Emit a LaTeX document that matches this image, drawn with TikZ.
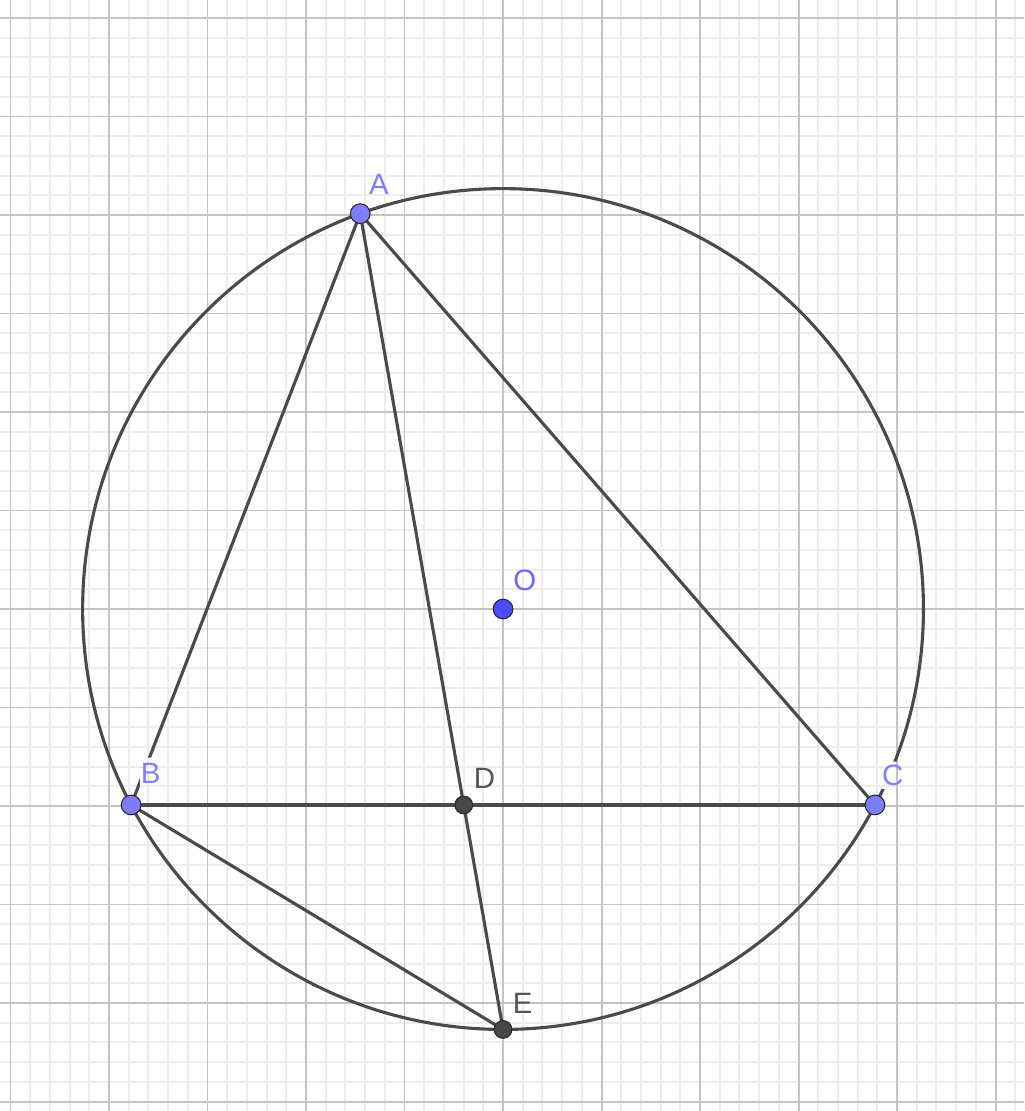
\documentclass[tikz,border=0pt]{standalone}
\usepackage{fontspec}
\setmainfont{Liberation Sans}
\usetikzlibrary{calc, positioning}
\definecolor{gridminor}{HTML}{EDEDED}
\definecolor{gridmajor}{HTML}{C4C4C4}
\definecolor{segcol}{HTML}{4A4A4A}
\definecolor{freeblue}{HTML}{7D7DFF}
\definecolor{centreblue}{HTML}{4D4DFF}
\definecolor{freelabel}{HTML}{8080FF}
\definecolor{centrelabel}{HTML}{6A6AFF}
\definecolor{depdot}{HTML}{474747}
\definecolor{deplabel}{HTML}{555555}
\tikzset{
    minorgrid/.style = {draw=gridminor, line width=0.55pt},
    majorgrid/.style = {draw=gridmajor, line width=0.55pt},
    segline/.style = {draw=segcol, line width=0.9pt},
    freedot/.style = {draw=black!85, fill=freeblue, circle, line width=0.3pt, minimum size=0.2cm, inner sep=0em},
    centredot/.style = {draw=black!85, fill=centreblue, circle, line width=0.3pt, minimum size=0.2cm, inner sep=0em},
    depdotnode/.style = {draw=black!85, fill=depdot, circle, line width=0.3pt, minimum size=0.18cm, inner sep=0em},
    ptlabel/.style = {inner sep=0em, font=\fontsize{8.5}{10}\selectfont}
}
\begin{document}
\begin{tikzpicture}
    \useasboundingbox (-5.107,-5.096) rectangle (5.289,6.183);

    % grid
    \draw [minorgrid, step=0.2] (-5.107,-5.096) grid (5.289,6.183);
    \draw [majorgrid, step=1] (-5.107,-5.096) grid (5.289,6.183);

    % construction points
    \coordinate (O) at (0,0);
    \coordinate (A) at (109.86:4.268);
    \coordinate (B) at (207.78:4.268);
    \coordinate (C) at (-27.78:4.268);
    \coordinate (E) at (270:4.268);
    \coordinate (D) at (intersection of A--E and B--C);

    % label places
    \coordinate (posA) at ($(A)+(0.19,0.30)$);
    \coordinate (posB) at ($(B)+(0.20,0.32)$);
    \coordinate (posC) at ($(C)+(0.18,0.30)$);
    \coordinate (posO) at ($(O)+(0.22,0.29)$);
    \coordinate (posD) at ($(D)+(0.21,0.27)$);
    \coordinate (posE) at ($(E)+(0.20,0.26)$);

    % lines break round the labels B and C
    \begin{scope}[even odd rule]
        \clip (-5.2,-5.2) rectangle (5.4,6.3)
            ($(posB)+(-0.11,-0.15)$) rectangle ($(posB)+(0.13,0.16)$)
            ($(posC)+(-0.14,-0.14)$) rectangle ($(posC)+(0.14,0.14)$);
        \draw [segline] (O) circle (4.268);
        \draw [segline] (A) -- (B);
        \draw [segline] (A) -- (C);
        \draw [segline] (A) -- (E);
        \draw [segline] (B) -- (C);
        \draw [segline] (B) -- (E);
    \end{scope}

    \node [name=dotA, freedot] at (A) {};
    \node [name=dotB, freedot] at (B) {};
    \node [name=dotC, freedot] at (C) {};
    \node [name=dotO, centredot] at (O) {};
    \node [name=dotD, depdotnode] at (D) {};
    \node [name=dotE, depdotnode] at (E) {};

    \node [name=labA, ptlabel, text=freelabel] at (posA) {A};
    \node [name=labB, ptlabel, text=freelabel] at (posB) {B};
    \node [name=labC, ptlabel, text=freelabel] at (posC) {C};
    \node [name=labO, ptlabel, text=centrelabel] at (posO) {O};
    \node [name=labD, ptlabel, text=deplabel] at (posD) {D};
    \node [name=labE, ptlabel, text=deplabel] at (posE) {E};
\end{tikzpicture}
\end{document}
